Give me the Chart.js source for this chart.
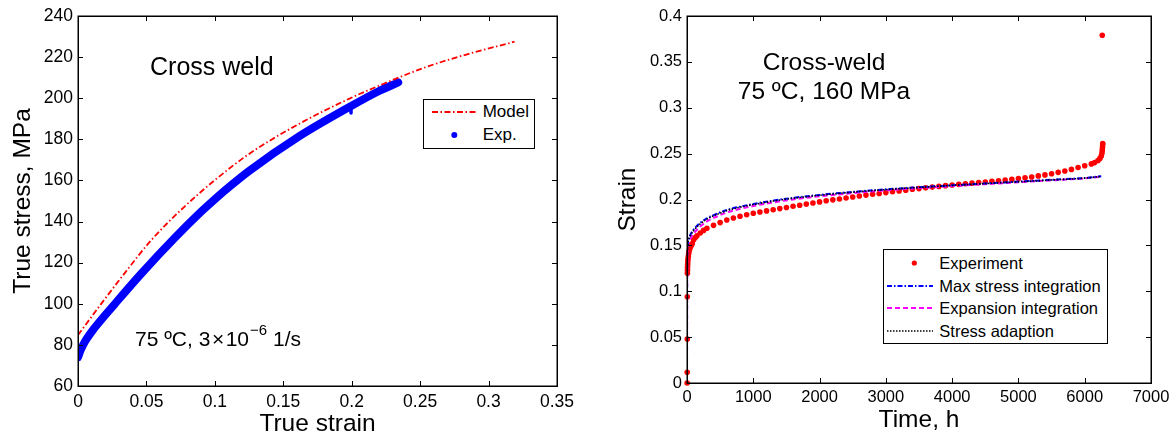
<!DOCTYPE html>
<html><head><meta charset="utf-8">
<script src="https://cdn.jsdelivr.net/npm/chart.js@4.4.1/dist/chart.umd.min.js"></script>
<style>
html,body{margin:0;padding:0;background:#fff;}
#wrap{position:relative;width:1176px;height:439px;overflow:hidden;font-family:'Liberation Sans',Arial,Helvetica,sans-serif;color:#000;}
canvas{position:absolute;top:0;}
.note{position:absolute;white-space:nowrap;line-height:1;}
.legend{position:absolute;box-sizing:border-box;border:1px solid #000;background:#fff;}
.lrow{position:absolute;white-space:nowrap;}
.lsym{position:absolute;}
</style></head><body>
<div id="wrap">
<canvas id="c1" width="580" height="439" style="left:0px;width:580px;height:439px"></canvas>
<canvas id="c2" width="596" height="439" style="left:580px;width:596px;height:439px"></canvas>
<div class="note" style="left:150px;top:54px;font-size:25px">Cross weld</div>
<div class="note" style="left:135px;top:328px;font-size:21px">75 ºC, 3<span style="padding:0 1.5px">×</span>10<span style="font-size:15px;position:relative;top:-11px;margin-left:1px">−6</span> 1/s</div>
<div class="note" style="left:724px;width:200px;text-align:center;top:47px;font-size:24.5px;line-height:29px">Cross-weld<br>75 ºC, 160 MPa</div>
<div id="leg1" class="legend" style="left:423px;top:99px;width:112px;height:50px"></div>
<div id="leg2" class="legend" style="left:883px;top:249px;width:225px;height:95px"></div>
</div>
<script>
// ---------- Left chart data ----------
const leftModelStrain = [0, 0.0172, 0.034, 0.0536, 0.0779, 0.0997, 0.125, 0.1615, 0.198, 0.22, 0.2537, 0.285, 0.319];
const leftModelStress = [84.8, 100.2, 114.8, 131, 147.3, 160, 172.9, 187.5, 199.7, 206.1, 215, 221.5, 227.5];
const leftExpStrain = [0, 0.002, 0.005, 0.0124, 0.027, 0.046, 0.0706, 0.09, 0.1, 0.112, 0.125, 0.1615, 0.198, 0.22, 0.234];
const leftExpStress = [74, 77.5, 81.5, 88.5, 100, 114.5, 132, 144.8, 150.9, 157.7, 164.6, 181.4, 195.6, 203.5, 207.7];
// a short downward spike in the measurement near strain 0.2
const leftExpSpikeStrain = [0.1995, 0.1995];
const leftExpSpikeStress = [196, 192.8];
const leftLabels = ['Model', 'Exp.'];
const leftXTicks = {min: 0, max: 0.35, step: 0.05};
const leftYTicks = {min: 60, max: 240, step: 20};

// ---------- Right chart data ----------
const expTime = [2,3,4,5,6,7,8,10,12,15,20,25,30,40,50,65,80,100,125,150,200,250,300,400,500,600,700,800,900,1000,1100,1200,1300,1400,1500,1600,1700,1800,1900,2000,2100,2200,2300,2400,2500,2600,2700,2800,2900,3000,3100,3200,3300,3400,3500,3600,3700,3800,3900,4000,4100,4200,4300,4400,4500,4600,4700,4800,4900,5000,5100,5200,5300,5400,5500,5600,5700,5800,5900,6000,6100,6150,6200,6230,6250,6260,6265,6268,6270,6272,6265];
const expStrain = [0,0.0116,0.048,0.094,0.1195,0.123,0.126,0.129,0.132,0.135,0.138,0.141,0.1435,0.146,0.148,0.15,0.152,0.156,0.1585,0.1605,0.1635,0.1663,0.1686,0.1718,0.1748,0.1777,0.1798,0.1817,0.1834,0.185,0.1863,0.1876,0.1889,0.1901,0.1913,0.1926,0.1938,0.195,0.1962,0.1974,0.1986,0.1996,0.2006,0.2016,0.2027,0.2038,0.2048,0.2057,0.2066,0.2075,0.2084,0.2093,0.2102,0.2111,0.2119,0.2127,0.2135,0.2143,0.2151,0.2158,0.2165,0.2172,0.2178,0.2184,0.2191,0.2198,0.2205,0.2212,0.222,0.2228,0.2237,0.2246,0.2257,0.2268,0.2281,0.2296,0.2311,0.2328,0.2348,0.2368,0.2388,0.2402,0.2425,0.2448,0.2475,0.2505,0.2535,0.2565,0.2595,0.261,0.379];
const modelTime = [0, 2, 5, 10, 20, 50, 95, 200, 300, 450, 600, 800, 1000, 1300, 1600, 2000, 2500, 3000, 3500, 4000, 4500, 5000, 5500, 6000, 6250];
const maxStressStrain = [0, 0.11, 0.145, 0.151, 0.1559, 0.1615, 0.1668, 0.1745, 0.1795, 0.1845, 0.1886, 0.1922, 0.1951, 0.1988, 0.2018, 0.205, 0.2083, 0.2111, 0.2134, 0.2155, 0.2175, 0.2195, 0.2215, 0.2235, 0.2254];
const expansionStrain = [0, 0.10, 0.14, 0.146, 0.151, 0.157, 0.1625, 0.1705, 0.1762, 0.1815, 0.1858, 0.1898, 0.1929, 0.1968, 0.2001, 0.2035, 0.207, 0.21, 0.2124, 0.2146, 0.2167, 0.2188, 0.2209, 0.223, 0.2249];
const adaptionStrain = [0, 0.108, 0.143, 0.149, 0.1545, 0.1603, 0.1657, 0.1735, 0.1786, 0.1837, 0.1879, 0.1916, 0.1945, 0.1983, 0.2014, 0.2046, 0.208, 0.2108, 0.2131, 0.2153, 0.2173, 0.2193, 0.2213, 0.2233, 0.2252];
const rightLabels = ['Experiment', 'Max stress integration', 'Expansion integration', 'Stress adaption'];
const rightXTicks = {min: 0, max: 7000, step: 1000};
const rightYTicks = {min: 0, max: 0.4, step: 0.05};

const FONT = "'Liberation Sans', Arial, Helvetica, sans-serif";
const zip = (xs, ys) => xs.map((x, i) => ({x, y: ys[i]}));
const fmt = v => String(Number(v.toFixed(4)));

const boxTicks = {
  id: 'boxTicks',
  afterDatasetsDraw(chart, args, opts) {
    const {ctx, chartArea: a, scales: {x, y}} = chart;
    const len = opts.len || 5;
    ctx.save();
    ctx.strokeStyle = '#000';
    ctx.lineWidth = 1;
    ctx.beginPath();
    x.ticks.forEach(t => {
      const p = Math.round(x.getPixelForValue(t.value)) + 0.5;
      ctx.moveTo(p, a.bottom); ctx.lineTo(p, a.bottom - len);
      ctx.moveTo(p, a.top); ctx.lineTo(p, a.top + len);
    });
    y.ticks.forEach(t => {
      const p = Math.round(y.getPixelForValue(t.value)) + 0.5;
      ctx.moveTo(a.left, p); ctx.lineTo(a.left + len, p);
      ctx.moveTo(a.right, p); ctx.lineTo(a.right - len, p);
    });
    ctx.stroke();
    ctx.lineWidth = 1.5;
    ctx.strokeRect(Math.round(a.left) + 0.25, Math.round(a.top) + 0.25, Math.round(a.right - a.left), Math.round(a.bottom - a.top));
    ctx.restore();
  }
};

function makeScales(cfg) {
  return {
    x: {
      type: 'linear', min: cfg.xt.min, max: cfg.xt.max,
      grid: {display: false, drawTicks: false}, border: {display: false},
      ticks: {stepSize: cfg.xt.step, autoSkip: false, maxRotation: 0, color: '#000', padding: cfg.xPad,
              font: {family: FONT, size: cfg.tickSize}, callback: v => fmt(v)},
      title: {display: true, text: cfg.xTitle, color: '#000', font: {family: FONT, size: cfg.titleSize},
              padding: {top: 0, bottom: cfg.xTitlePad}},
      afterFit: s => { s.height = cfg.xH; }
    },
    y: {
      type: 'linear', min: cfg.yt.min, max: cfg.yt.max,
      grid: {display: false, drawTicks: false}, border: {display: false},
      ticks: {stepSize: cfg.yt.step, autoSkip: false, color: '#000', padding: cfg.yPad,
              font: {family: FONT, size: cfg.tickSize}, callback: v => fmt(v)},
      title: {display: true, text: cfg.yTitle, color: '#000', font: {family: FONT, size: cfg.titleSize},
              padding: {top: cfg.yTitlePad, bottom: 0}},
      afterFit: s => { s.width = cfg.yW; }
    }
  };
}

const commonOpts = (pad, scales, tickLen) => ({
  responsive: false, animation: false, devicePixelRatio: 1, events: [],
  layout: {padding: pad},
  plugins: {legend: {display: false}, tooltip: {enabled: false}, boxTicks: {len: tickLen}},
  scales
});

// Left chart datasets
const leftDatasets = [
  {label: leftLabels[0], data: zip(leftModelStrain, leftModelStress), showLine: true, borderColor: '#ff0000',
   borderWidth: 1.8, borderDash: [6, 2.5, 1.5, 2.5], pointRadius: 0, cubicInterpolationMode: 'monotone', order: 1},
  {label: leftLabels[1], data: zip(leftExpStrain, leftExpStress), showLine: true, borderColor: '#0000ff',
   backgroundColor: '#0000ff', borderWidth: 8, borderCapStyle: 'round', borderJoinStyle: 'round',
   pointRadius: 0, cubicInterpolationMode: 'monotone', order: 2, legendDot: 3}
];
const leftSpike = {label: 'spike', data: zip(leftExpSpikeStrain, leftExpSpikeStress), showLine: true,
   borderColor: '#0000ff', borderWidth: 3.5, borderCapStyle: 'round', pointRadius: 0, order: 2};
new Chart(document.getElementById('c1'), {
  type: 'scatter',
  data: {datasets: [...leftDatasets, leftSpike]},
  options: commonOpts({left: 0, top: 16, right: 21, bottom: 0},
    makeScales({xt: leftXTicks, yt: leftYTicks, tickSize: 17.5, titleSize: 24.5, xTitle: 'True strain',
      yTitle: 'True stress, MPa', xPad: 6, yPad: 5, xTitlePad: 0.5, yTitlePad: 8.5, xH: 53, yW: 78}), 5),
  plugins: [boxTicks]
});

// Right chart datasets
const rightDatasets = [
  {label: rightLabels[0], data: zip(expTime, expStrain), showLine: false, backgroundColor: '#ff0000',
   borderWidth: 0, pointRadius: 2.8, pointBorderWidth: 0, clip: 6, order: 5, legendDot: 2.6},
  {label: rightLabels[1], data: zip(modelTime, maxStressStrain), showLine: true, borderColor: '#0000ff',
   borderWidth: 2, borderDash: [5, 2, 1.5, 2], pointRadius: 0, cubicInterpolationMode: 'monotone', order: 3},
  {label: rightLabels[2], data: zip(modelTime, expansionStrain), showLine: true, borderColor: '#ff00ff',
   borderWidth: 2, borderDash: [5, 3], pointRadius: 0, cubicInterpolationMode: 'monotone', order: 4},
  {label: rightLabels[3], data: zip(modelTime, adaptionStrain), showLine: true, borderColor: '#000000',
   borderWidth: 1.6, borderDash: [1.5, 1.5], pointRadius: 0, cubicInterpolationMode: 'monotone', order: 2}
];
new Chart(document.getElementById('c2'), {
  type: 'scatter',
  data: {datasets: rightDatasets},
  options: commonOpts({left: 0, top: 16, right: 25, bottom: 0},
    makeScales({xt: rightXTicks, yt: rightYTicks, tickSize: 16.5, titleSize: 24.5, xTitle: 'Time, h',
      yTitle: 'Strain', xPad: 5, yPad: 5, xTitlePad: 4.5, yTitlePad: 34, xH: 56, yW: 107}), 5),
  plugins: [boxTicks]
});

// HTML legends built from dataset definitions
function buildLegend(el, datasets, L) {
  datasets.forEach((ds, i) => {
    const cy = L.rowTop + i * L.rowStep;
    const sym = document.createElementNS('http://www.w3.org/2000/svg', 'svg');
    sym.setAttribute('width', L.symW); sym.setAttribute('height', 12);
    sym.setAttribute('class', 'lsym');
    sym.style.left = L.symLeft + 'px'; sym.style.top = (cy - 6) + 'px';
    if (ds.showLine === false || ds.legendDot) {
      const c = document.createElementNS('http://www.w3.org/2000/svg', 'circle');
      c.setAttribute('cx', L.dotX - L.symLeft); c.setAttribute('cy', 6); c.setAttribute('r', ds.legendDot || 2.5);
      c.setAttribute('fill', ds.backgroundColor || ds.borderColor);
      sym.appendChild(c);
    } else {
      const ln = document.createElementNS('http://www.w3.org/2000/svg', 'line');
      ln.setAttribute('x1', 0); ln.setAttribute('x2', L.symW); ln.setAttribute('y1', 6); ln.setAttribute('y2', 6);
      ln.setAttribute('stroke', ds.borderColor); ln.setAttribute('stroke-width', Math.min(ds.borderWidth, 1.8));
      if (ds.borderDash) ln.setAttribute('stroke-dasharray', ds.borderDash.join(' '));
      sym.appendChild(ln);
    }
    el.appendChild(sym);
    const t = document.createElement('div');
    t.className = 'lrow';
    t.textContent = ds.label;
    t.style.left = L.textLeft + 'px';
    t.style.fontSize = L.font + 'px';
    t.style.lineHeight = '20px';
    t.style.top = (cy - 10) + 'px';
    el.appendChild(t);
  });
}
buildLegend(document.getElementById('leg1'), leftDatasets,
  {rowTop: 12, rowStep: 23, symLeft: 7.7, symW: 45, dotX: 30, textLeft: 58.7, font: 17});
buildLegend(document.getElementById('leg2'), rightDatasets,
  {rowTop: 13.3, rowStep: 22.5, symLeft: 2.7, symW: 46, dotX: 30, textLeft: 55.3, font: 16.5});
</script>
</body></html>
